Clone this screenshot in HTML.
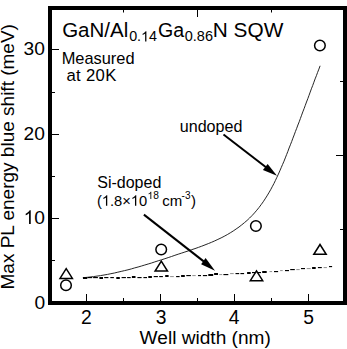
<!DOCTYPE html>
<html><head><meta charset="utf-8"><style>
html,body{margin:0;padding:0;background:#fff;}
svg{display:block;}
text{font-family:"Liberation Sans",sans-serif;fill:#000;}
</style></head><body>
<svg width="347" height="349" viewBox="0 0 347 349">
<rect x="0" y="0" width="347" height="349" fill="#fff"/>
<path d="M52,49.5H59 M52,134.5H59 M52,218.5H59 M52,92.5H55 M52,176.5H55 M52,260.5H55 M86.5,301V294 M160.5,301V294 M234.5,301V294 M308.5,301V294 M123.5,301V298 M197.5,301V298 M271.5,301V298 M123.5,10V12.5 M197.5,10V17 M271.5,10V12.5 M343,81.5H340 M343,155.5H336 M343,229.5H340" stroke="#000" stroke-width="1" fill="none"/>
<rect x="50" y="8" width="295" height="295" fill="none" stroke="#000" stroke-width="4"/>
<path d="M82.8,277.7 L86.4,277.4 L90.0,277.0 L93.5,276.6 L97.0,276.1 L100.5,275.6 L104.0,275.0 L107.5,274.4 L110.9,273.7 L114.4,273.0 L117.8,272.2 L121.2,271.4 L124.6,270.6 L128.0,269.8 L131.4,268.9 L134.7,267.9 L138.1,267.0 L141.5,266.0 L144.8,265.0 L148.2,264.0 L151.5,263.0 L154.8,261.9 L158.2,260.8 L161.5,259.8 L164.9,258.7 L168.2,257.6 L171.5,256.5 L174.9,255.3 L178.2,254.2 L181.6,253.1 L184.9,252.0 L188.3,250.9 L191.7,249.7 L195.0,248.6 L198.4,247.4 L201.7,246.2 L205.0,244.9 L208.3,243.6 L211.5,242.3 L214.7,240.9 L217.9,239.4 L221.1,237.9 L224.2,236.3 L227.3,234.6 L230.3,232.8 L233.2,231.0 L236.1,229.0 L239.0,227.0 L241.7,224.9 L244.4,222.7 L247.1,220.4 L249.6,218.0 L252.1,215.5 L254.5,212.9 L256.8,210.2 L259.0,207.5 L261.1,204.7 L263.2,201.8 L265.1,198.9 L267.0,195.9 L268.8,192.9 L270.6,189.8 L272.2,186.8 L273.9,183.6 L275.4,180.5 L276.9,177.3 L278.4,174.1 L279.8,170.9 L281.2,167.7 L282.6,164.4 L284.0,161.2 L285.3,157.9 L286.6,154.6 L287.9,151.3 L289.1,148.0 L290.4,144.8 L291.7,141.5 L292.9,138.2 L294.2,134.9 L295.4,131.6 L296.7,128.3 L297.9,125.0 L299.2,121.8 L300.4,118.5 L301.6,115.2 L302.8,111.9 L304.1,108.6 L305.3,105.3 L306.5,102.0 L307.8,98.7 L309.0,95.4 L310.2,92.1 L311.4,88.8 L312.7,85.5 L313.9,82.2 L315.1,78.9 L316.4,75.7 L317.6,72.4 L318.9,69.1 L320.1,65.8" fill="none" stroke="#1a1a1a" stroke-width="0.95"/>
<rect x="83.0" y="277" width="4.3" height="2" fill="#000"/><rect x="87.9" y="277" width="4.2" height="1.15" fill="#000"/><rect x="93.1" y="277" width="4.8" height="1.15" fill="#000"/><rect x="99.4" y="277" width="3.6" height="2" fill="#000"/><rect x="104.2" y="277" width="4.2" height="1.15" fill="#000"/><rect x="110.3" y="277" width="3.6" height="1.15" fill="#000"/><rect x="116.3" y="277" width="3.5" height="2" fill="#000"/><rect x="121.6" y="277" width="4.3" height="1.15" fill="#000"/><rect x="127.1" y="277" width="3.6" height="1.15" fill="#000"/><rect x="131.9" y="276" width="3.6" height="2" fill="#000"/><rect x="137.4" y="277" width="4.2" height="1.15" fill="#000"/><rect x="143.4" y="277" width="3.6" height="1.15" fill="#000"/><rect x="148.3" y="276" width="3.6" height="2" fill="#000"/><rect x="153.7" y="276" width="4.2" height="1.15" fill="#000"/><rect x="159.2" y="276" width="3.7" height="1.15" fill="#000"/><rect x="165.2" y="275" width="3.4" height="2" fill="#000"/><rect x="170.1" y="276" width="3.7" height="1.1" fill="#999"/><rect x="176.1" y="276" width="3.5" height="1.15" fill="#000"/><rect x="181.1" y="275" width="3.7" height="2" fill="#000"/><rect x="186.3" y="275" width="4.6" height="1.15" fill="#000"/><rect x="192.3" y="275" width="3.4" height="1.1" fill="#999"/><rect x="198" y="275" width="3.0" height="1.15" fill="#000"/><rect x="202.9" y="275" width="4.2" height="1.15" fill="#000"/><rect x="208.3" y="274" width="4.9" height="2" fill="#000"/><rect x="214.1" y="273" width="3.9" height="2" fill="#000"/><rect x="219.2" y="274" width="3.0" height="1.1" fill="#999"/><rect x="223.4" y="274" width="4.9" height="1.15" fill="#000"/><rect x="230.1" y="273" width="3.6" height="1.1" fill="#999"/><rect x="235.5" y="273" width="3.7" height="1.15" fill="#000"/><rect x="240.4" y="273" width="3.7" height="1.15" fill="#000"/><rect x="247.1" y="272" width="3.6" height="2" fill="#000"/><rect x="252" y="272" width="3.6" height="1.15" fill="#000"/><rect x="256.8" y="272" width="4.2" height="1.15" fill="#000"/><rect x="262.2" y="271" width="4.5" height="2" fill="#000"/><rect x="269.5" y="271" width="2.6" height="1.1" fill="#999"/><rect x="274" y="271" width="4.1" height="1.15" fill="#000"/><rect x="280.1" y="270" width="2.6" height="1.1" fill="#999"/><rect x="285" y="270" width="4.0" height="1.15" fill="#000"/><rect x="290.2" y="269" width="4.6" height="1.15" fill="#000"/><rect x="296.3" y="269" width="3.4" height="1.1" fill="#999"/><rect x="301" y="268" width="4.0" height="1.15" fill="#000"/><rect x="306.7" y="268" width="4.0" height="1.1" fill="#999"/><rect x="312.1" y="267" width="3.6" height="2" fill="#000"/><rect x="317.9" y="267" width="3.9" height="1.15" fill="#000"/><rect x="323.6" y="267" width="3.3" height="1.1" fill="#999"/><rect x="329" y="266" width="3.1" height="1.15" fill="#000"/>
<circle cx="66" cy="285.2" r="5.3" fill="none" stroke="#000" stroke-width="1.5"/><circle cx="161.2" cy="249.5" r="5.3" fill="none" stroke="#000" stroke-width="1.5"/><circle cx="255.9" cy="226" r="5.3" fill="none" stroke="#000" stroke-width="1.5"/><circle cx="319.9" cy="45.5" r="5.3" fill="none" stroke="#000" stroke-width="1.5"/>
<path d="M60.0,278.4 L72.4,278.4 L66.2,268.59999999999997 Z" fill="none" stroke="#000" stroke-width="1.5" stroke-linejoin="miter"/><path d="M155.10000000000002,271 L167.5,271 L161.3,261.2 Z" fill="none" stroke="#000" stroke-width="1.5" stroke-linejoin="miter"/><path d="M250.3,280.7 L262.7,280.7 L256.5,270.9 Z" fill="none" stroke="#000" stroke-width="1.5" stroke-linejoin="miter"/><path d="M313.8,254.3 L326.2,254.3 L320,244.5 Z" fill="none" stroke="#000" stroke-width="1.5" stroke-linejoin="miter"/>
<path d="M223.5,134.5 L266,167.2" stroke="#000" stroke-width="2"/>
<path d="M277,175.7 L262.9,170 L267.65,164.1 Z" fill="#000"/>
<path d="M143.9,214.6 L204,261.6" stroke="#000" stroke-width="2"/>
<path d="M215,270.7 L201.1,264.2 L205.6,257.9 Z" fill="#000"/>
<text x="62.17" y="36.7" font-size="20.5">GaN/Al</text>
<text x="129.14" y="41.4" font-size="14.3">0.</text><path transform="translate(141.07,41.4) scale(0.00698,-0.00698)" d="M763,0L583,0L583,1147C540,1106 483,1064 413,1023C342,982 279,951 223,930L223,1104C324,1151 412,1209 487,1276C562,1343 615,1409 646,1472L763,1472Z"/><text x="149.02" y="41.4" font-size="14.3">4</text>
<text x="158.01" y="36.7" font-size="19.6">Ga</text>
<text x="184.73" y="41.4" font-size="14.5">0.86</text>
<text x="212.79" y="36.7" font-size="20.8">N SQW</text>
<text x="61.65" y="63.5" font-size="16.4">Measured</text>
<text x="66.39" y="80.5" font-size="16.7" letter-spacing="0.35">at 20K</text>
<text x="179.75" y="131.9" font-size="16.1">undoped</text>
<text x="97.27" y="187.8" font-size="16">Si-doped</text>
<text x="96.89" y="205.7" font-size="14.7">(</text><path transform="translate(101.78,205.7) scale(0.00718,-0.00718)" d="M763,0L583,0L583,1147C540,1106 483,1064 413,1023C342,982 279,951 223,930L223,1104C324,1151 412,1209 487,1276C562,1343 615,1409 646,1472L763,1472Z"/><text x="109.96" y="205.7" font-size="14.7">.8×</text><path transform="translate(130.80,205.7) scale(0.00718,-0.00718)" d="M763,0L583,0L583,1147C540,1106 483,1064 413,1023C342,982 279,951 223,930L223,1104C324,1151 412,1209 487,1276C562,1343 615,1409 646,1472L763,1472Z"/><text x="138.98" y="205.7" font-size="14.7">0</text>
<path transform="translate(147.49,199) scale(0.00498,-0.00498)" d="M763,0L583,0L583,1147C540,1106 483,1064 413,1023C342,982 279,951 223,930L223,1104C324,1151 412,1209 487,1276C562,1343 615,1409 646,1472L763,1472Z"/><text x="153.16" y="199" font-size="10.2">8</text>
<text x="162.16" y="205.7" font-size="15">cm</text>
<text x="181.56" y="199" font-size="10">-3</text>
<text x="191.01" y="205.7" font-size="15">)</text>
<text x="23.59" y="55" font-size="19.2">30</text>
<text x="23.59" y="140" font-size="19.2">20</text>
<path transform="translate(23.59,224) scale(0.00937,-0.00937)" d="M763,0L583,0L583,1147C540,1106 483,1064 413,1023C342,982 279,951 223,930L223,1104C324,1151 412,1209 487,1276C562,1343 615,1409 646,1472L763,1472Z"/><text x="34.27" y="224" font-size="19.2">0</text>
<text x="34.47" y="308.8" font-size="19.2">0</text>
<text x="81.03" y="323.8" font-size="19.3">2</text>
<text x="155.76" y="323.8" font-size="19.3">3</text>
<text x="228.86" y="323.8" font-size="19.3">4</text>
<text x="303.23" y="323.8" font-size="19.3">5</text>
<text x="139.62" y="344.2" font-size="19.1">Well width (nm)</text>
<text transform="translate(14.4,289.5) rotate(-90)" font-size="19">Max PL energy blue shift (meV)</text>
</svg>
</body></html>
